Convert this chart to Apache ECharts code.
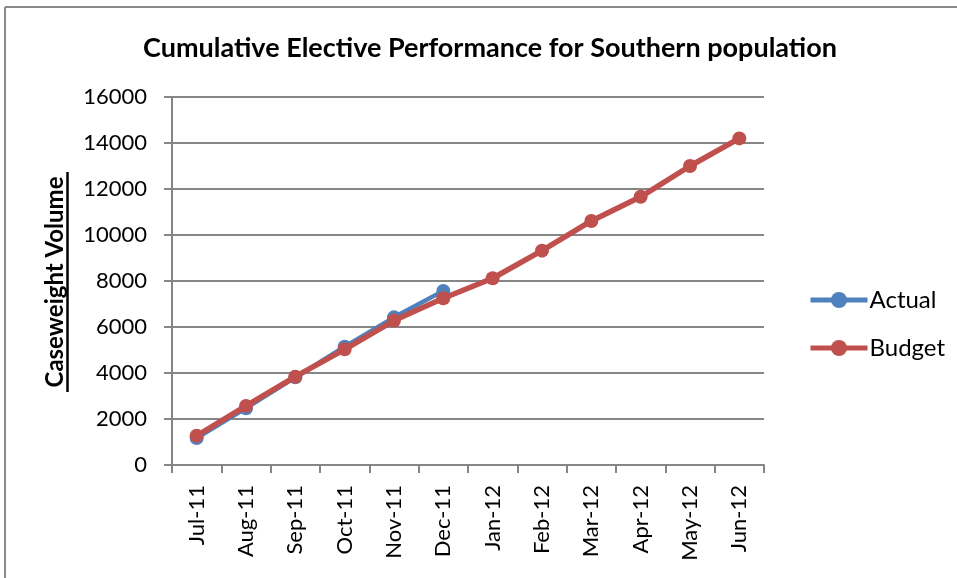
<!DOCTYPE html>
<html><head><meta charset="utf-8">
<script src="https://cdn.jsdelivr.net/npm/echarts@6/dist/echarts.min.js"></script>
<style>html,body{margin:0;padding:0;background:#fff}#c{width:957px;height:578px}</style>
</head><body><div id="c"></div>
<script>
const categories = ['Jul-11','Aug-11','Sep-11','Oct-11','Nov-11','Dec-11','Jan-12','Feb-12','Mar-12','Apr-12','May-12','Jun-12'];
const actual = [1170, 2470, 3810, 5140, 6420, 7570, null, null, null, null, null, null];
const budget = [1270, 2570, 3840, 5030, 6280, 7250, 8120, 9320, 10610, 11660, 13000, 14200];
const yTicks = [0, 2000, 4000, 6000, 8000, 10000, 12000, 14000, 16000];

const FONT = 'Lato';
const chart = echarts.init(document.getElementById('c'), null, {renderer: 'canvas'});
chart.setOption({
  animation: false,
  backgroundColor: '#fff',
  title: {
    text: 'Cumulative Elective Performance for Southern population',
    left: 485, top: 30, textAlign: 'center',
    textStyle: {fontFamily: FONT, fontWeight: 'bold', fontSize: 27, color: '#000'}
  },
  graphic: [
    {type: 'line', shape: {x1: 5, y1: 7, x2: 957, y2: 7}, style: {stroke: '#8a8a8a', lineWidth: 2}},
    {type: 'line', shape: {x1: 5, y1: 7, x2: 5, y2: 578}, style: {stroke: '#8a8a8a', lineWidth: 2}},
    {type: 'text', x: 55, y: 282, rotation: Math.PI / 2, style: {text: 'Caseweight Volume', fontFamily: FONT, fontWeight: 'bold', fontSize: 24, fill: '#000', align: 'center', verticalAlign: 'middle'}},
    {type: 'line', shape: {x1: 67.5, y1: 172, x2: 67.5, y2: 392}, style: {stroke: '#000', lineWidth: 2.5}}
  ],
  legend: {
    orient: 'vertical', left: 803, top: 283, itemGap: 24,
    itemWidth: 57, itemHeight: 20,
    lineStyle: {width: 5},
    textStyle: {fontFamily: FONT, fontSize: 24, color: '#000', padding: [0, 0, 0, -3]},
    data: ['Actual', 'Budget']
  },
  grid: {left: 172, right: 193, top: 97, bottom: 113, containLabel: false},
  xAxis: {
    type: 'category', data: categories, boundaryGap: true,
    axisLine: {lineStyle: {color: '#868686', width: 2}},
    axisTick: {show: true, alignWithLabel: false, length: 8, lineStyle: {color: '#868686', width: 2}},
    axisLabel: {rotate: 90, interval: 0, fontFamily: FONT, fontSize: 22, color: '#000', margin: 20},
    splitLine: {show: false}
  },
  yAxis: {
    type: 'value', min: 0, max: 16000, interval: 2000,
    axisLine: {show: true, lineStyle: {color: '#868686', width: 2}},
    axisTick: {show: true, length: 8, lineStyle: {color: '#868686', width: 2}},
    axisLabel: {fontFamily: FONT, fontSize: 22, color: '#000', margin: 25,
      formatter: v => yTicks.includes(v) ? String(v) : ''},
    splitLine: {lineStyle: {color: '#868686', width: 2}}
  },
  series: [
    {name: 'Actual', type: 'line', data: actual, symbol: 'circle', symbolSize: 14,
     lineStyle: {width: 4.5, color: '#4F81BD'}, itemStyle: {color: '#4F81BD'}, z: 2},
    {name: 'Budget', type: 'line', data: budget, symbol: 'circle', symbolSize: 14,
     lineStyle: {width: 5.5, color: '#C0504D'}, itemStyle: {color: '#C0504D'}, z: 3}
  ]
});
</script></body></html>
